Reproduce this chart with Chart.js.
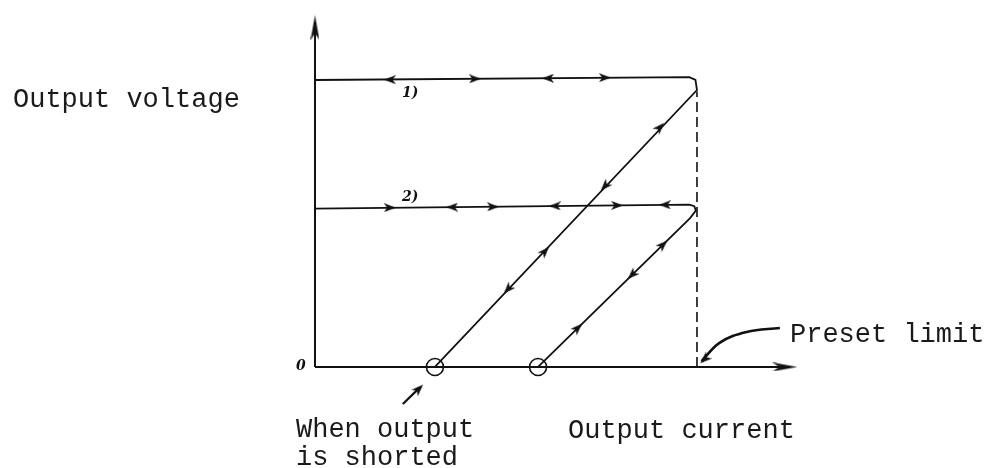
<!DOCTYPE html>
<html>
<head>
<meta charset="utf-8">
<script src="https://cdn.jsdelivr.net/npm/chart.js@4"></script>
<style>
  body { margin: 0; background: #fff; }
  #wrap { position: relative; width: 985px; height: 468px; }
  canvas { position: absolute; left: 0; top: 0; }
  .lbl { position: absolute; font-family: "Liberation Mono", monospace; font-size: 27px;
         line-height: 28px; color: #1a1a1a; white-space: pre; }
  .tag { position: absolute; font-family: "DejaVu Serif", serif; font-style: italic;
         font-weight: bold; font-size: 14px; color: #111; }
</style>
</head>
<body>
<div id="wrap">
  <canvas id="chart" width="985" height="468"></canvas>
  <div class="lbl" style="left:13px; top:86px;">Output voltage</div>
  <div class="lbl" style="left:296px; top:416px;">When output
is shorted</div>
  <div class="lbl" style="left:568px; top:417px;">Output current</div>
  <div class="lbl" style="left:790px; top:321px;">Preset limit</div>
  <div class="tag" style="left:402px; top:84px;">1)</div>
  <div class="tag" style="left:402px; top:188px;">2)</div>
  <div class="tag" style="left:296px; top:357px;">0</div>
</div>
<script>
// x = output current, y = output voltage (arbitrary units, limit at x = 10)
var ink = '#111';

var xAxisLine = [{x: 0, y: 0}, {x: 12.4, y: 0}];
var yAxisLine = [{x: 0, y: 0}, {x: 0, y: 12.0}];
var axisTips = [{x: 12.3, y: 0}, {x: 0, y: 11.82}];
var axisTipAngle = [90, 0];

// case 1): high preset voltage, falls back along the steep line to the short
var curve1 = [{x: 0, y: 10}, {x: 9.8, y: 10.1}, {x: 9.96, y: 10.0}, {x: 10, y: 9.65}, {x: 3.14, y: 0}];
// case 2): lower preset voltage
var curve2 = [{x: 0, y: 5.52}, {x: 9.8, y: 5.66}, {x: 9.93, y: 5.6}, {x: 9.97, y: 5.45}, {x: 9.82, y: 5.19}, {x: 5.84, y: 0}];

var limitLine = [{x: 10, y: 0}, {x: 10, y: 9.6}];
var shortPoints = [{x: 3.14, y: 0}, {x: 5.84, y: 0}];

// arrow marks along the traces, with their direction (deg, clockwise from up)
var arrows1 = [{x: 1.96, y: 10.01}, {x: 4.19, y: 10.04}, {x: 6.10, y: 10.06}, {x: 7.59, y: 10.08},
               {x: 9.03, y: 8.35}, {x: 7.59, y: 6.30}, {x: 6.02, y: 4.03}, {x: 5.05, y: 2.71}];
var angles1 = [270, 90, 270, 90, 43, 223, 43, 223];
var arrows2 = [{x: 1.96, y: 5.55}, {x: 3.59, y: 5.57}, {x: 4.66, y: 5.58}, {x: 6.28, y: 5.61},
               {x: 7.91, y: 5.63}, {x: 9.16, y: 5.65},
               {x: 9.11, y: 4.26}, {x: 8.30, y: 3.21}, {x: 6.88, y: 1.36}];
var angles2 = [90, 270, 90, 270, 90, 270, 46, 226, 46];

var shortPointer = [{x: 2.30, y: -1.29}, {x: 2.74, y: -0.72}];
var presetPointer = [{x: 12.17, y: 1.36}, {x: 11.3, y: 1.22}, {x: 10.6, y: 0.85}, {x: 10.12, y: 0.2}];
var pointerTips = [{x: 2.72, y: -0.76}, {x: 10.2, y: 0.27}];
var pointerAngles = [45, 227];

function head(w, h) {
  var c = document.createElement('canvas');
  c.width = w; c.height = h;
  var g = c.getContext('2d');
  g.fillStyle = ink;
  g.beginPath();
  g.moveTo(w / 2, 0);
  g.lineTo(w, h);
  g.lineTo(w / 2, h * 0.72);
  g.lineTo(0, h);
  g.closePath();
  g.fill();
  return c;
}
var bigHead = head(9, 25);
var smallHead = head(9, 12);

function trace(data, width, extra) {
  return Object.assign({
    data: data, showLine: true, borderColor: ink, borderWidth: width,
    pointRadius: 0, fill: false, tension: 0
  }, extra || {});
}
function marks(data, angles, img) {
  return {
    data: data, showLine: false, pointStyle: img, rotation: angles,
    pointRadius: 6, pointHoverRadius: 6
  };
}

new Chart(document.getElementById('chart'), {
  type: 'scatter',
  data: {
    datasets: [
      trace(xAxisLine, 2),
      trace(yAxisLine, 2),
      trace(curve1, 1.8),
      trace(curve2, 1.8),
      trace(limitLine, 1.6, {borderDash: [10, 5]}),
      trace(shortPointer, 2.2),
      trace(presetPointer, 2.6, {tension: 0.4}),
      {data: shortPoints, showLine: false, pointStyle: 'circle', pointRadius: 8.5,
       pointBorderWidth: 1.6, pointBorderColor: ink, pointBackgroundColor: 'rgba(0,0,0,0)'},
      marks(axisTips, axisTipAngle, bigHead),
      marks(arrows1, angles1, smallHead),
      marks(arrows2, angles2, smallHead),
      marks(pointerTips, pointerAngles, smallHead)
    ]
  },
  options: {
    responsive: false,
    animation: false,
    layout: {padding: 0, autoPadding: false},
    plugins: {legend: {display: false}, tooltip: {enabled: false}},
    scales: {
      x: {type: 'linear', display: false, min: -8.246, max: 17.54},
      y: {type: 'linear', display: false, min: -3.52, max: 12.787}
    }
  }
});
</script>
</body>
</html>
